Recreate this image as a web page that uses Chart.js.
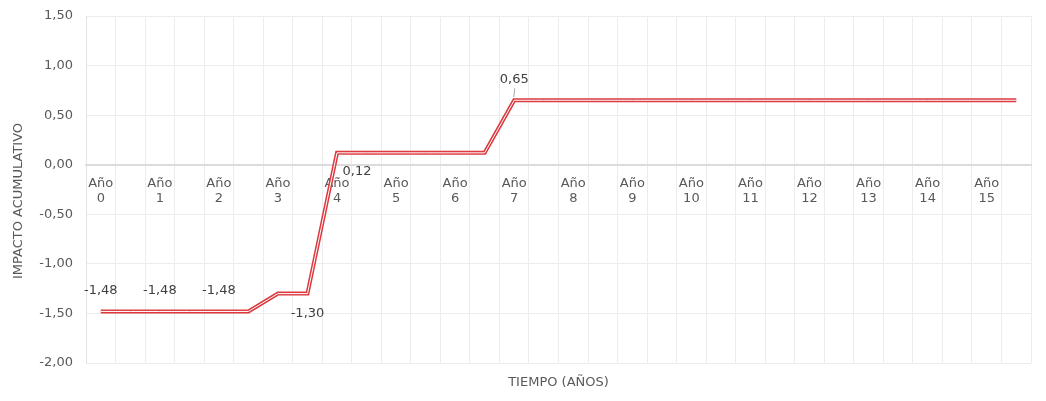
<!DOCTYPE html>
<html lang="es">
<head>
<meta charset="utf-8">
<title>Impacto acumulativo</title>
<script src="https://cdn.jsdelivr.net/npm/chart.js@4.4.1/dist/chart.umd.min.js"></script>
<style>
  html, body { margin: 0; padding: 0; background: #ffffff; }
  #wrap { width: 1046px; height: 401px; }
</style>
</head>
<body>
<div id="wrap"><canvas id="chart" width="1046" height="401"></canvas></div>
<script>
// Half-year slots; every second slot carries a year label.
const periodLabels = [
  ["Año", "0"], "", ["Año", "1"], "", ["Año", "2"], "", ["Año", "3"], "",
  ["Año", "4"], "", ["Año", "5"], "", ["Año", "6"], "", ["Año", "7"], "",
  ["Año", "8"], "", ["Año", "9"], "", ["Año", "10"], "", ["Año", "11"], "",
  ["Año", "12"], "", ["Año", "13"], "", ["Año", "14"], "", ["Año", "15"], ""
];

// Cumulative impact per half-year slot
const cumulativeImpact = [
  -1.48, -1.48, -1.48, -1.48, -1.48, -1.48,
  -1.30, -1.30,
  0.12, 0.12, 0.12, 0.12, 0.12, 0.12,
  0.65, 0.65, 0.65, 0.65, 0.65, 0.65, 0.65, 0.65, 0.65,
  0.65, 0.65, 0.65, 0.65, 0.65, 0.65, 0.65, 0.65, 0.65
];

// Slots that show their value as a label
const labelledSlots = [0, 2, 4, 7, 8, 14];

// Y axis tick values
const yTicks = [-2.0, -1.5, -1.0, -0.5, 0.0, 0.5, 1.0, 1.5];

const yTitle = 'IMPACTO ACUMULATIVO';
const xTitle = 'TIEMPO (AÑOS)';

const FONT = "'DejaVu Sans', sans-serif";
const fmt = v => v.toFixed(2).replace('.', ',');

// Label placement relative to its point
const labelOffsets = {
  0: { dx: 0, dy: -21 },
  2: { dx: 0, dy: -21 },
  4: { dx: 0, dy: -21 },
  7: { dx: 0, dy: 20 },
  8: { dx: 20, dy: 19 },
  14: { dx: 0, dy: -21, leader: true }
};

const valueLabels = {
  id: 'valueLabels',
  afterDatasetsDraw(chart) {
    const ctx = chart.ctx;
    const meta = chart.getDatasetMeta(0);
    const data = chart.data.datasets[0].data;
    ctx.save();
    ctx.font = `13px ${FONT}`;
    ctx.fillStyle = '#404040';
    ctx.textAlign = 'center';
    ctx.textBaseline = 'middle';
    labelledSlots.forEach(i => {
      const pt = meta.data[i];
      const o = labelOffsets[i] || { dx: 0, dy: -20 };
      const x = pt.x + o.dx, y = pt.y + o.dy;
      if (o.leader) {
        ctx.strokeStyle = '#a6a6a6';
        ctx.lineWidth = 1;
        ctx.beginPath();
        ctx.moveTo(x + 0.5, y + 9);
        ctx.lineTo(pt.x - 0.5, pt.y - 3);
        ctx.stroke();
      }
      ctx.fillText(fmt(data[i]), x, y);
    });
    ctx.restore();
  }
};

// Rotated value-axis title, set a little below the plot's middle
const valueAxisTitle = {
  id: 'valueAxisTitle',
  afterDraw(chart) {
    const ctx = chart.ctx;
    ctx.save();
    ctx.translate(19, 201);
    ctx.rotate(-Math.PI / 2);
    ctx.font = `13px ${FONT}`;
    ctx.fillStyle = '#595959';
    ctx.textAlign = 'center';
    ctx.textBaseline = 'middle';
    ctx.fillText(yTitle, 0, 0);
    ctx.restore();
  }
};

new Chart(document.getElementById('chart'), {
  type: 'line',
  data: {
    labels: periodLabels,
    datasets: [
      {
        // white core of the double line
        data: cumulativeImpact,
        borderColor: '#ffffff',
        borderWidth: 1.0,
        pointRadius: 0,
        tension: 0,
        borderJoinStyle: 'miter',
        order: 0
      },
      {
        data: cumulativeImpact,
        borderColor: '#dc3a3f',
        borderWidth: 4,
        pointRadius: 0,
        tension: 0,
        borderJoinStyle: 'miter',
        order: 1
      }
    ]
  },
  options: {
    responsive: false,
    animation: false,
    devicePixelRatio: 1,
    layout: { padding: { left: 0, right: 15, top: 16, bottom: 0 } },
    plugins: { legend: { display: false }, tooltip: { enabled: false } },
    scales: {
      x: {
        type: 'category',
        position: { y: 0 },
        offset: true,
        grid: { offset: true, color: '#ececec', lineWidth: 1, drawTicks: false },
        border: { display: true, color: '#dcdcdc', width: 2 },
        ticks: {
          autoSkip: false, maxRotation: 0, minRotation: 0, padding: 11,
          color: '#595959', font: { family: FONT, size: 13, lineHeight: 1.18 }
        }
      },
      xTitle: {
        type: 'category',
        position: 'bottom',
        grid: { display: false },
        border: { display: false },
        ticks: { display: false },
        title: {
          display: true, text: xTitle, color: '#595959',
          font: { family: FONT, size: 13 }, padding: { top: 0, bottom: 11 }
        },
        afterFit(scale) { scale.height = 38; }
      },
      y: {
        min: -2, max: 1.5,
        afterBuildTicks(scale) { scale.ticks = yTicks.map(v => ({ value: v })); },
        grid: {
          color: ctx => (ctx.tick && ctx.tick.value === 0) ? 'rgba(0,0,0,0)' : '#ececec',
          lineWidth: 1, drawTicks: false
        },
        border: { display: true, color: '#e3e3e3', width: 1 },
        ticks: {
          padding: 13, color: '#595959',
          font: { family: FONT, size: 13 },
          callback: v => fmt(v)
        },
        afterFit(scale) {
          scale.width = 86;
          scale.paddingTop = 0;
          scale.paddingBottom = 0;
        }
      }
    }
  },
  plugins: [valueLabels, valueAxisTitle]
});
</script>
</body>
</html>
